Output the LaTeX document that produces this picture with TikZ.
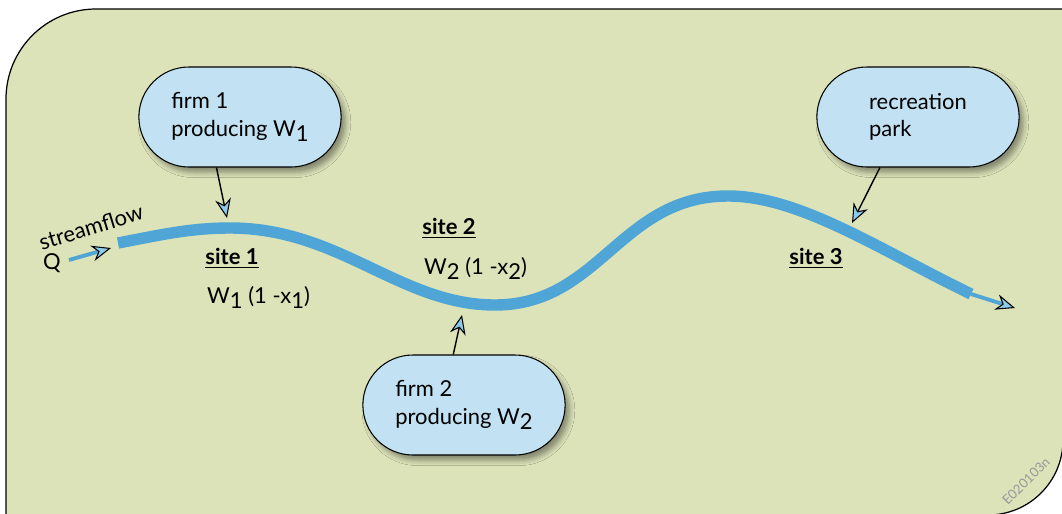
\documentclass[tikz,border=0pt]{standalone}
\usepackage{fontspec}
\setmainfont{Lato}
\usetikzlibrary{shapes.misc,arrows.meta,shadows.blur}
\definecolor{meadow}{HTML}{DCE3B9}
\definecolor{pill}{HTML}{C2E2F3}
\definecolor{river}{HTML}{4FA6D6}
\definecolor{tipblue}{HTML}{8CCBEB}
\newcommand{\lowsub}[1]{\raisebox{-0.45ex}{#1}}

\begin{document}
\begin{tikzpicture}[x=0.02cm, y=-0.02cm,
  firm/.style={rounded rectangle, draw=black, line width=0.6pt, fill=pill, minimum width=4.28cm, minimum height=2cm, align=left, font=\fontsize{12.5}{15.5}\selectfont, blur shadow={shadow xshift=2.5pt, shadow yshift=-3pt, shadow blur radius=3pt}},
  site/.style={font=\fontsize{12.5}{15}\selectfont\bfseries},
  load/.style={font=\fontsize{12.5}{15}\selectfont, anchor=west},
  feed/.style={draw=black, line width=0.8pt, -{Stealth[length=11pt, width=9pt, inset=3.5pt, color=black, fill=tipblue, line width=0.6pt]}},
  flow/.style={draw=river, line width=2.2pt, -{Stealth[length=11pt, width=9pt, inset=3.5pt, color=black, fill=tipblue, line width=0.6pt]}}
]
  \useasboundingbox (0,0) rectangle (1062,514);
  % Background panel
  \begin{scope}
    \clip (0,0) rectangle (1062,514);
    \draw[fill=meadow, line width=0.7pt] (6,515) -- (6,99) arc[start angle=180, end angle=90, radius=1.8cm]
      -- (1063,9) -- (1063,440) arc[start angle=0, end angle=-90, radius=1.5cm] -- cycle;
  \end{scope}
  % River
  \coordinate (src) at (69,260);
  \coordinate (inlet) at (111,248);
  \coordinate (head) at (118,243);
  \coordinate (mouth) at (971,294);
  \coordinate (outlet) at (1015,308);
  \draw[river, line width=6.5pt] (head) .. controls (160,235) and (190,228) .. (230,228)
    .. controls (340,228) and (400,305) .. (495,305)
    .. controls (600,305) and (620,196) .. (728,196)
    .. controls (800,196) and (880,250) .. (mouth);
  \draw[flow] (src) -- (inlet);
  \draw[flow] (mouth) -- (outlet);
  \node[font=\fontsize{12.5}{15}\selectfont, rotate=17] (stream) at (91,227) {streamflow};
  \node[font=\fontsize{12.5}{15}\selectfont] (q) at (52,263) {Q};
  % Firms and park
  \node[firm] (firm1) at (240,117) {firm 1\\producing W\lowsub{1}};
  \node[firm] (firm2) at (464,405) {firm 2\\producing W\lowsub{2}};
  \node[firm] (park) at (918,117) {recreation\\park};
  % Sites
  \node[site] (site1) at (232,258) {\underline{site 1}};
  \node[load] (load1) at (201,297) {W\lowsub{1} (1 -x\lowsub{1})};
  \node[site] (site2) at (449,228) {\underline{site 2}};
  \node[load] (load2) at (418,268) {W\lowsub{2} (1 -x\lowsub{2})};
  \node[site] (site3) at (816,258) {\underline{site 3}};
  % Discharges
  \coordinate (in1) at (227,218);
  \coordinate (in2) at (462,315);
  \coordinate (in3) at (852,223);
  \draw[feed] (firm1.245) -- (in1);
  \draw[feed] (firm2.102) -- (in2);
  \draw[feed] (park.233) -- (in3);
  \node[font=\fontsize{7.5}{9}\selectfont, text=black!40, rotate=45] (code) at (1026,481) {E020103n};
\end{tikzpicture}
\end{document}
